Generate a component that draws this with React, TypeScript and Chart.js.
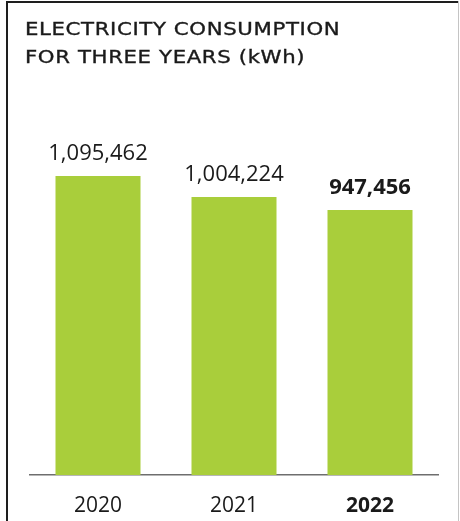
import React, { useEffect, useRef } from "react";
import { Chart, registerables } from "chart.js";

Chart.register(...registerables);

const titleLines = ["ELECTRICITY CONSUMPTION", "FOR THREE YEARS (kWh)"];
const years = ["2020", "2021", "2022"];
const consumption = [1095462, 1004224, 947456];
const axisMin = -206000;
const axisMax = 1426300;

const FONT = "'Open Sans', sans-serif";
const TEXT = "#1a1a1a";
const GREEN = "#a9ce3b";

const valueLabels = {
  id: "valueLabels",
  afterDatasetsDraw(chart: any) {
    const ctx = chart.ctx;
    const meta = chart.getDatasetMeta(0);
    const data = chart.data.datasets[0].data as number[];
    ctx.save();
    ctx.fillStyle = TEXT;
    ctx.textAlign = "center";
    ctx.textBaseline = "alphabetic";
    meta.data.forEach((el: any, i: number) => {
      const bold = i === data.length - 1;
      ctx.font = `${bold ? "bold " : ""}22px ${FONT}`;
      ctx.fillText(data[i].toLocaleString("en-US"), el.x, el.y - 16);
    });
    ctx.restore();
  },
};

export default function App() {
  const ref = useRef<HTMLCanvasElement>(null);
  useEffect(() => {
    if (!ref.current) return;
    const chart = new Chart(ref.current, {
      type: "bar",
      data: {
        labels: years,
        datasets: [
          {
            data: consumption,
            backgroundColor: GREEN,
            base: axisMin,
            categoryPercentage: 1,
            barPercentage: 0.625,
          } as any,
        ],
      },
      options: {
        animation: false,
        responsive: false,
        maintainAspectRatio: false,
        layout: { padding: { left: 30, right: 22, top: 100, bottom: 0 } },
        plugins: { legend: { display: false }, tooltip: { enabled: false }, title: { display: false } },
        scales: {
          y: { display: false, min: axisMin, max: axisMax },
          x: {
            grid: { display: false, drawTicks: false },
            border: { display: true, color: "#6e6e6e", width: 1.5 },
            afterFit: (s: any) => {
              s.height = 46;
            },
            ticks: {
              color: TEXT,
              padding: 18,
              font: (c: any) => ({
                family: FONT,
                size: 21,
                weight: c.index === years.length - 1 ? "bold" : "normal",
              }),
            },
          },
        },
      },
      plugins: [valueLabels],
    });
    return () => chart.destroy();
  }, []);

  return (
    <div style={{ position: "fixed", left: 0, top: 0, width: 460, height: 521, background: "#fff", overflow: "hidden" }}>
      <canvas ref={ref} width={460} height={521} style={{ position: "absolute", left: 0, top: 0 }} />
      <div
        style={{
          position: "absolute",
          left: 25,
          top: 15,
          fontFamily: "'DejaVu Sans', sans-serif",
          fontSize: 17,
          lineHeight: "28px",
          letterSpacing: "0.5px",
          color: TEXT,
          whiteSpace: "nowrap",
          WebkitTextStroke: "0.35px " + TEXT,
          transform: "scaleX(1.25)",
          transformOrigin: "left top",
        }}
      >
        {titleLines.map((l) => (
          <div key={l}>{l}</div>
        ))}
      </div>
      <div style={{ position: "absolute", left: 6, top: 1, width: 2, height: 520, background: "#1e1e1e" }} />
      <div style={{ position: "absolute", left: 6, top: 1, width: 452, height: 2, background: "#1e1e1e" }} />
      <div style={{ position: "absolute", left: 458, top: 1, width: 1, height: 520, background: "#c4c4c4" }} />
    </div>
  );
}
